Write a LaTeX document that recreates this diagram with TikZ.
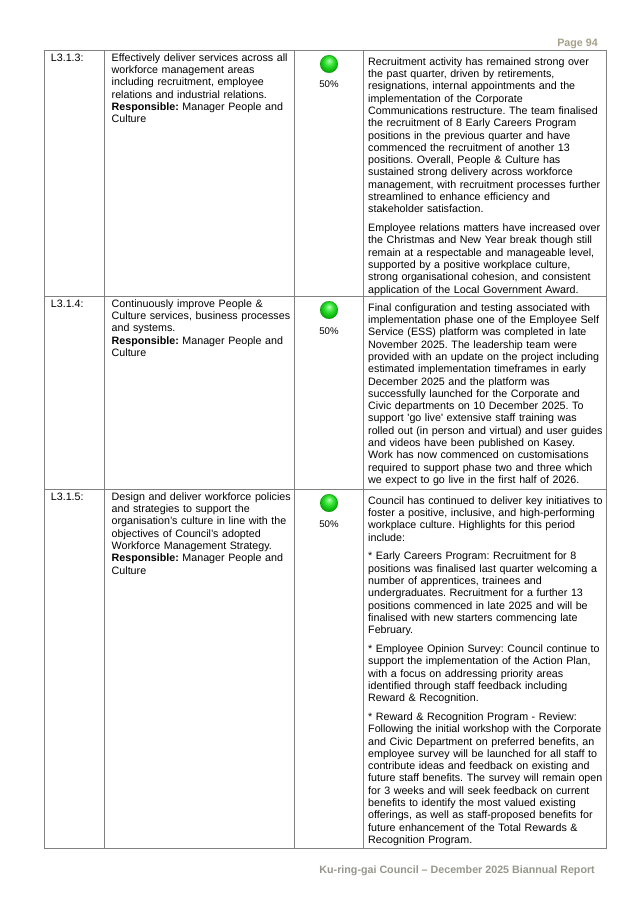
\documentclass[tikz,border=0pt]{standalone}
\usepackage{fontspec}
\setmainfont{Liberation Sans}
\frenchspacing
\definecolor{gHi}{RGB}{230,255,230}
\definecolor{gMid}{RGB}{130,248,130}
\definecolor{gMain}{RGB}{45,220,45}
\definecolor{gDark}{RGB}{0,165,0}
\definecolor{rulec}{RGB}{128,128,128}
\definecolor{headc}{RGB}{166,160,138}
\definecolor{footc}{RGB}{150,150,140}
\pgfdeclareradialshading{greenball}{\pgfpoint{0bp}{10bp}}{color(0bp)=(gHi); color(4bp)=(gMid); color(14bp)=(gMain); color(28bp)=(gDark); color(50bp)=(gDark)}
\begin{document}
\begin{tikzpicture}[x=0.9345pt,y=-0.9345pt,
  gridline/.style={draw=rulec,line width=0.8pt},
  idtext/.style={font=\fontsize{10}{11.5}\selectfont,inner sep=0pt,anchor=north west,align=left,text width=50pt},
  desctext/.style={font=\fontsize{10}{11.5}\selectfont,inner sep=0pt,anchor=north west,align=left,text width=190pt},
  commtext/.style={font=\fontsize{10}{11.5}\selectfont,inner sep=0pt,anchor=north west,align=left,text width=260pt},
  pcttext/.style={font=\fontsize{9}{10}\selectfont,inner sep=0pt,anchor=base},
  statusball/.style={circle,minimum size=17.5*0.9345pt,inner sep=0pt,shading=greenball,draw=gDark!85!black,line width=0.3pt},
  headtext/.style={font=\fontsize{10}{12}\selectfont\bfseries,text=headc,inner sep=0pt,anchor=base east},
  foottext/.style={font=\fontsize{10}{12}\selectfont\bfseries,text=footc,inner sep=0pt,anchor=base east}]
\useasboundingbox (0,0) rectangle (637,901);

% header / footer
\node[headtext] (page) at (598,47) {Page 94};
\node[foottext] (foot) at (595,873) {Ku-ring-gai Council – December 2025 Biannual Report};

% table grid
\draw[gridline] (44,50) rectangle (606,848);
\draw[gridline] (44,296) -- (606,296);
\draw[gridline] (44,489) -- (606,489);
\draw[gridline] (104,50) -- (104,848);
\draw[gridline] (294.5,50) -- (294.5,848);
\draw[gridline] (363,50) -- (363,848);

% row 1
\node[idtext] (id1) at (50.7,52.4) {\strut L3.1.3:};
\node[desctext] (d1) at (111.5,52.4) {\strut Effectively deliver services across all\\
workforce management areas\\
including recruitment, employee\\
relations and industrial relations.\\
\textbf{Responsible:} Manager People and\\
Culture};
\node[statusball] (b1) at (329,64) {};
\node[pcttext] (p1) at (329,88) {50\%};
\node[commtext] (c1) at (368,56.4) {\strut Recruitment activity has remained strong over\\
the past quarter, driven by retirements,\\
resignations, internal appointments and the\\
implementation of the Corporate\\
Communications restructure. The team finalised\\
the recruitment of 8 Early Careers Program\\
positions in the previous quarter and have\\
commenced the recruitment of another 13\\
positions. Overall, People \& Culture has\\
sustained strong delivery across workforce\\
management, with recruitment processes further\\
streamlined to enhance efficiency and\\
stakeholder satisfaction.\\[6pt]
Employee relations matters have increased over\\
the Christmas and New Year break though still\\
remain at a respectable and manageable level,\\
supported by a positive workplace culture,\\
strong organisational cohesion, and consistent\\
application of the Local Government Award.};

% row 2
\node[idtext] (id2) at (50.7,298.4) {\strut L3.1.4:};
\node[desctext] (d2) at (111.5,298.4) {\strut Continuously improve People \&\\
Culture services, business processes\\
and systems.\\
\textbf{Responsible:} Manager People and\\
Culture};
\node[statusball] (b2) at (329,310) {};
\node[pcttext] (p2) at (329,334) {50\%};
\node[commtext] (c2) at (368,302.4) {\strut Final configuration and testing associated with\\
implementation phase one of the Employee Self\\
Service (ESS) platform was completed in late\\
November 2025. The leadership team were\\
provided with an update on the project including\\
estimated implementation timeframes in early\\
December 2025 and the platform was\\
successfully launched for the Corporate and\\
Civic departments on 10 December 2025. To\\
support \textquotesingle go live\textquotesingle\ extensive staff training was\\
rolled out (in person and virtual) and user guides\\
and videos have been published on Kasey.\\
Work has now commenced on customisations\\
required to support phase two and three which\\
we expect to go live in the first half of 2026.};

% row 3
\node[idtext] (id3) at (50.7,491.4) {\strut L3.1.5:};
\node[desctext] (d3) at (111.5,491.4) {\strut Design and deliver workforce policies\\
and strategies to support the\\
organisation’s culture in line with the\\
objectives of Council’s adopted\\
Workforce Management Strategy.\\
\textbf{Responsible:} Manager People and\\
Culture};
\node[statusball] (b3) at (329,503) {};
\node[pcttext] (p3) at (329,527) {50\%};
\node[commtext] (c3) at (368,495.4) {\strut Council has continued to deliver key initiatives to\\
foster a positive, inclusive, and high-performing\\
workplace culture. Highlights for this period\\
include:\\[6pt]
* Early Careers Program: Recruitment for 8\\
positions was finalised last quarter welcoming a\\
number of apprentices, trainees and\\
undergraduates. Recruitment for a further 13\\
positions commenced in late 2025 and will be\\
finalised with new starters commencing late\\
February.\\[6pt]
* Employee Opinion Survey: Council continue to\\
support the implementation of the Action Plan,\\
with a focus on addressing priority areas\\
identified through staff feedback including\\
Reward \& Recognition.\\[6pt]
* Reward \& Recognition Program - Review:\\
Following the initial workshop with the Corporate\\
and Civic Department on preferred benefits, an\\
employee survey will be launched for all staff to\\
contribute ideas and feedback on existing and\\
future staff benefits. The survey will remain open\\
for 3 weeks and will seek feedback on current\\
benefits to identify the most valued existing\\
offerings, as well as staff-proposed benefits for\\
future enhancement of the Total Rewards \&\\
Recognition Program.};
\end{tikzpicture}
\end{document}
